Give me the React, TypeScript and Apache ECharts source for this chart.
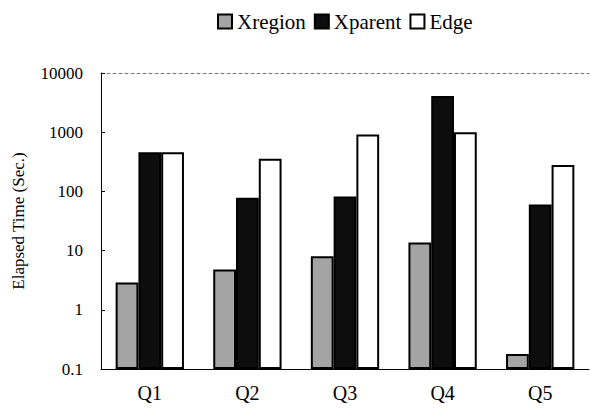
import React, { useEffect, useRef } from "react";
import * as echarts from "echarts";

const categories = ["Q1", "Q2", "Q3", "Q4", "Q5"];
const xregion = [2.9, 4.8, 8.0, 13.7, 0.18];
const xparent = [460, 78, 82, 4100, 60];
const edge = [460, 355, 910, 1000, 280];

const FONT = "Liberation Serif";

export default function App() {
  const ref = useRef<HTMLDivElement>(null);
  useEffect(() => {
    if (!ref.current) return;
    const chart = echarts.init(ref.current, undefined, { renderer: "svg" });
    const barBorder = { borderColor: "#000", borderWidth: 2 };
    chart.setOption({
      animation: false,
      backgroundColor: "#fff",
      textStyle: { fontFamily: FONT, color: "#000" },
      legend: {
        top: 6,
        left: 212,
        icon: "rect",
        itemWidth: 14,
        itemHeight: 14,
        itemGap: 8,
        textStyle: { fontFamily: FONT, fontSize: 21, color: "#000" },
        data: ["Xregion", "Xparent", "Edge"],
      },
      grid: { left: 101, right: 2, top: 73, bottom: 46 },
      xAxis: [
        {
          type: "category",
          data: categories,
          axisLine: { lineStyle: { color: "#000", width: 1 } },
          axisTick: { inside: true, length: 5, lineStyle: { color: "#000" } },
          axisLabel: { fontFamily: FONT, fontSize: 20, color: "#000", margin: 14 },
        },
        {
          type: "category",
          data: categories,
          position: "top",
          axisLine: { lineStyle: { color: "#777", width: 1, type: [3, 3] } },
          axisTick: { show: false },
          axisLabel: { show: false },
        },
      ],
      yAxis: {
        type: "log",
        logBase: 10,
        min: 0.1,
        max: 10000,
        startValue: 0.1,
        name: "Elapsed Time (Sec.)",
        nameLocation: "middle",
        nameGap: 74,
        nameTextStyle: { fontFamily: FONT, fontSize: 17, color: "#000" },
        axisLine: { show: true, lineStyle: { color: "#000" } },
        axisTick: { show: true, inside: true, length: 4, lineStyle: { color: "#000" } },
        splitLine: { show: false },
        axisLabel: {
          fontFamily: FONT,
          fontSize: 17,
          color: "#000",
          margin: 18,
          formatter: (v: number) => (v < 1 ? String(Math.round(v * 10) / 10) : String(Math.round(v))),
        },
      },
      series: [
        {
          name: "Xregion",
          type: "bar",
          data: xregion,
          barGap: "0%",
          barCategoryGap: "30%",
          itemStyle: { color: "#a4a4a4", ...barBorder },
        },
        {
          name: "Xparent",
          type: "bar",
          data: xparent,
          itemStyle: { color: "#0d0d0d", ...barBorder },
        },
        {
          name: "Edge",
          type: "bar",
          data: edge,
          itemStyle: { color: "#ffffff", ...barBorder },
        },
      ],
    });
    return () => chart.dispose();
  }, []);
  return <div ref={ref} style={{ width: 591, height: 415, position: "absolute", left: 0, top: 0 }} />;
}
